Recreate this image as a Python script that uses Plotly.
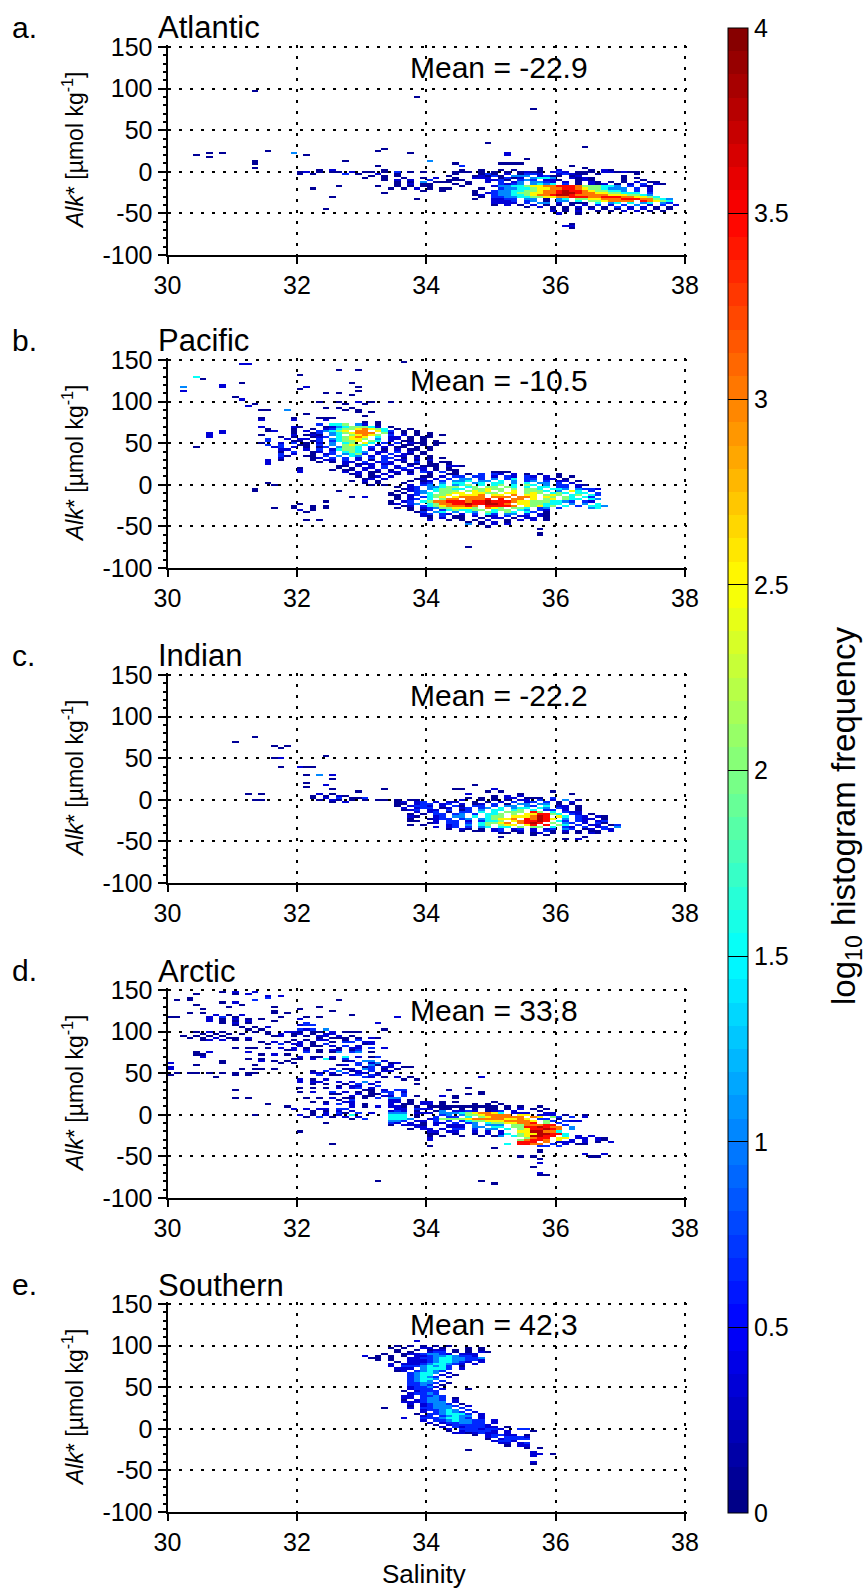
import numpy as np
import plotly.graph_objects as go

# Each row: Alk* value, salinity of first cell, one character per 0.1 salinity cell (space = empty).
level_values = {"1": 0.1, "2": 0.35, "3": 0.65, "4": 1.05, "5": 1.5, "6": 2.0, "7": 2.5, "8": 3.0, "9": 3.45, "a": 3.8}

atlantic_rows = [
    (97.5, 31.3, "1"), (90, 33.8, "1"), (75, 35.6, "1"), (35, 34.9, "1"), (30, 36.4, "1"),
    (27.5, 33.3, "1"), (25, 31.5, "1"), (25, 33.2, "1"), (22.5, 30.6, "1 1"), (22.5, 31.9, "4"), (22.5, 33.7, "1"),
    (22.5, 35.2, "2"), (20, 30.4, "1"), (20, 32.1, "1"), (20, 35.2, "2"), (17.5, 30.6, "1"), (15, 35.5, "1"),
    (12.5, 31.3, "1"), (12.5, 32.7, "1"), (12.5, 34.0, "4"), (10, 31.3, "1"), (10, 34.4, "1"), (7.5, 33.2, "1"),
    (10, 35.1, "1111"), (7.5, 34.5, "3"), (7.5, 36.2, "1"), (5, 31.3, "1"), (5, 35.7, "1"), (5, 36.4, "1"),
    (2.5, 32.3, "1 2"), (2.5, 33.3, "1"),
    (0, 32.0, "12 1 11 2 11 1 3 1 1"), (-2.5, 32.0, "1 1    3 1  2  1"), (-5, 33.1, "1 1 1"),
    (-7.5, 33.0, "1  1  1  1 2"), (-10, 33.3, "1 2 2  3"), (-12.5, 33.5, "1 1 4 1 1"),
    (-15, 33.5, "1 2 11"), (-17.5, 32.6, "1"), (-17.5, 33.2, "1  1 1 1"), (-20, 32.2, "1"), (-20, 33.4, "1 1 2 1 11"),
    (-22.5, 33.9, "1  1"), (-25, 33.3, "1"), (-30, 32.5, "1"), (-32.5, 33.8, "1"), (-45, 32.4, "1"),
    (2.5, 34.0, "     1  1  1 1   1  2    1 21"),
    (0, 34.0, "    111 1 1 1 1211 232 111 221211"),
    (-2.5, 34.0, "    1   131 2 1332  23211 1     1"),
    (-5, 34.0, "   1   12131 444 2311 12      1"),
    (-7.5, 34.0, "    1  222 1312 4554  2121    1 1"),
    (-10, 34.0, "   111   2231 343 221  121    1  1"),
    (-12.5, 34.0, "  11  1  2 3 24 4432 2 1 21 1 1 2 11"),
    (-15, 34.0, "1   1 1    3234 4545 3 1 212 1 2 3 21"),
    (-17.5, 34.0, "1    1    24455677889998666554 3 21"),
    (-20, 34.0, "        1  34455677889987665444 3 2"),
    (-22.5, 34.0, "       1  34455667889a998766554 3 2"),
    (-25, 34.0, "       1 234456677889aa9887766555 3"),
    (-27.5, 34.0, "       12 3445567889aa9888887776654"),
    (-30, 34.0, "        1 33445566778899988999887765"),
    (-32.5, 34.0, "       1  2233 44 1 45 667788899988654"),
    (-35, 34.0, "          2223 34 1 44 5 6678888 98765"),
    (-37.5, 34.0, "          2222 3 44 2 111 5 45 5 45 43"),
    (-40, 34.0, "          1 2 1 2 1 1 1 2 3 2 3 4 2 3 2"),
    (-42.5, 34.0, "               1 2 1 1 2 1 1 3 2 2 1 1"),
    (-45, 34.0, "                   1 1 1 2 1 1 2 2 1 1"),
    (-47.5, 34.0, "                   2 1 2  1 1 2 2 1 1"),
    (-50, 34.0, "                    2  1"),
    (-65, 36.1, "22"), (-67.5, 36.2, "1"), (-62.5, 36.2, "1"),
]

pacific_rows = [
    (146, 31.1, "22"), (147.5, 33.6, "1"), (137.5, 32.6, "1  1"), (132.5, 32.0, "1"), (130, 30.4, "5"), (127.5, 30.5, "1"),
    (122.5, 31.1, "1"), (122.5, 32.8, "1"), (120, 30.8, "2"), (117.5, 30.2, "4"), (117.5, 30.8, "2"), (117.5, 32.1, "2"), (117.5, 32.9, "1"),
    (115, 32.0, "1"), (112.5, 30.2, "2"), (112.5, 32.9, "1"), (110, 32.4, "1 1"), (107.5, 32.8, "1"), (105, 31.0, "1"),
    (102.5, 31.1, "2"), (100, 32.3, "1  1  2 1  1"), (97.5, 31.3, "1"), (97.5, 32.7, "1  1"),
    (95, 31.2, "2"), (92.5, 32.4, "1 1 1"), (90, 31.4, "11"), (90, 31.8, "4"), (90, 32.7, "1 1"), (87.5, 32.9, "1 1"), (85, 32.1, "1"),
    (82.5, 33.0, "1"), (80, 31.4, "1"), (80, 31.9, "1"), (80, 32.3, "111"), (77.5, 31.4, "2"), (77.5, 31.9, "2"), (77.5, 32.4, "2"), (75, 33.0, "1 1"),
    (70, 31.4, "2"), (67.5, 31.5, "1"), (65, 31.5, "1"), (65, 30.8, "2"), (62.5, 30.6, "2"), (62.5, 30.8, "2"), (60, 30.6, "2"),
    (60, 31.4, "1"), (57.5, 30.6, "2"), (55, 31.5, "3"), (52.5, 31.5, "3"), (50, 31.4, "1"),
    (47.5, 31.5, "3"), (45, 30.4, "1"), (45, 31.6, "2"), (42.5, 31.7, "1"), (35, 31.8, "1"),
    (30, 31.5, "2"), (27.5, 31.5, "2"), (25, 31.5, "2"),
    (72.5, 31.4, "         3 556 42 1"),
    (70, 31.4, "     21   124566652 1"),
    (67.5, 31.4, "     1  1 2356678765 1 1"),
    (65, 31.4, "  2  1 2 34567 88 753 1 1"),
    (62.5, 31.4, "     1  13 4567888 62 1 1 1"),
    (60, 31.4, "     2 121 45 67876 3 2 1 1 1"),
    (57.5, 31.4, "   1 1  123 56787 5 22 1 11"),
    (55, 31.4, "    2 22 3 456776 4 22 1 1"),
    (52.5, 31.4, "     11 13 35667 65 2 11 1 1"),
    (50, 31.4, "   2 3 1 2 4 56 75 3 3 211 11"),
    (47.5, 31.4, "   3  11 3 4 6765 2 2 11 1 1"),
    (45, 31.4, "   3 2 1 13 4665 3 2 11 1 1"),
    (42.5, 31.4, "   22  2 3 25665 2 1 2 11 1"),
    (40, 31.4, "   1 3  12 3 5654 22 3 2 1"),
    (37.5, 31.4, "   3 2  1 23 4563 2 3 21 1"),
    (35, 31.4, "   31  11 3 4 54 2 3 22 1 1"),
    (32.5, 31.4, "   2    12 3 3 2 3 33 1 2 1 1"),
    (30, 31.4, "   1    1 22 3 2 1 3 22 1 2"),
    (27.5, 32.3, "1 1 22 3 232 1 3 1 11"),
    (25, 32.7, "2 122 22  11 11 1"),
    (22.5, 32.6, "11 2 2 3 2 2 111 221"),
    (20, 32.0, "1"), (20, 32.6, "1 1 22 3 23 22 1 1"),
    (17.5, 32.0, "2"), (17.5, 32.5, "1 11 2 2 1 22 2 1 11"),
    (15, 32.0, "2"), (15, 32.7, "2 2 11 22 1 32 3 1"), (15, 35.0, "111"),
    (12.5, 32.8, "12 1 2 1 2"), (10, 32.9, "1 12 2"), (7.5, 33.0, "12 2"), (5, 32.8, "1 2 1"), (2.5, 33.0, "1 1"), (2.5, 31.5, "1"),
    (0, 33.1, "1 1"), (0, 31.6, "1"), (-5, 31.3, "1"), (-7.5, 31.3, "1"), (-7.5, 32.6, "1"),
    (12.5, 33.4, "      1  11 1 3 32 2 1 1  1"),
    (10, 33.4, "     11 2 33 33 2 32 32 2 1 1"),
    (7.5, 33.4, "    12 2 3 44 3 4 35 33 22 1"),
    (5, 33.4, "   1 12 3 445 44 5 4 34 3 22 1"),
    (2.5, 33.4, "  1  23 4 55 45 55 4 5 44 3 2"),
    (0, 33.4, "   2 34 5 456 5 56 5 65 4 33 21"),
    (-2.5, 33.4, " 1 23 44566 56 66 65 5 55 33 2"),
    (-5, 33.4, "  123 456655 66766 6 665 554 4332"),
    (-7.5, 33.4, " 1 234 5666 6767 6 7 6665 4 75 3"),
    (-10, 33.4, "1 1 345 6677 7766 77 676 565 55 3"),
    (-12.5, 33.4, "11 23 5667 7778 77 8 77 676 56 53"),
    (-15, 33.4, " 1 2 3567 78888 888 887 76 65 53"),
    (-17.5, 33.4, " 1 23 5 688 8889 9 88 7 67 655 54"),
    (-20, 33.4, "1 23 5688999899a9998776665543 32"),
    (-22.5, 33.4, "12 34 568899a99aa98 7766555 4 4 5"),
    (-25, 33.4, "  12 356788898 99998 76756 5 3 554"),
    (-27.5, 33.4, " 1 1 234667776 876 665 34 3    45"),
    (-30, 33.4, "   1 13 3565566 566 54 32"),
    (-32.5, 33.4, "    13 45 4 54 65 65 53 1"),
    (-35, 33.4, "     23 32 2 3 53 44 3 21"),
    (-37.5, 33.4, "     21 3 11 2 12 3 22 21"),
    (-40, 33.4, "      1 2 11  1 22 1 22 1"),
    (-42.5, 34.0, "2  1 1 1 2  1 2 2 1"), (-45, 34.6, "1 1 2 1"), (-47.5, 34.6, "4 1 2 2"), (-50, 34.9, "1"),
    (-52.5, 35.7, "1"), (-57.5, 35.7, "1"), (-60, 35.7, "1"), (-75, 34.6, "1"),
    (-15, 32.8, "1 2"), (-20, 32.4, "1"), (-22.5, 32.0, "1"), (-25, 31.9, "1  1 1"), (-27.5, 31.6, "1  1  1 1"), (-30, 32.0, "2 1"), (-32.5, 32.1, "1"), (-42.5, 32.1, "1 1"),
]

indian_rows = [
    (75, 31.3, "1"), (70, 31.0, "1"), (65, 31.6, "1 1"), (62.5, 31.7, "1"), (52.5, 32.4, "1"), (50, 31.6, "12"), (40, 31.7, "1"), (40, 32.0, "211"),
    (30, 32.1, "1 4 2"), (25, 32.5, "1"), (20, 32.1, "1"), (17.5, 32.4, "2"), (15, 32.1, "1"), (12.5, 32.5, "1"), (7.5, 31.2, "1 1"), (10, 32.9, "1"),
    (12.5, 33.3, "1"), (7.5, 32.3, "2 1"), (5, 32.2, "1 1 21"), (2.5, 32.2, "1 2 3 11"), (0, 31.3, "11"), (0, 32.3, "1 21 1"), (2.5, 33.0, "3"),
    (-2.5, 32.5, "1 2"), (0, 33.0, "1"), (17.5, 34.7, "1"), (12.5, 34.4, "11"), (12.5, 35.0, "2"), (10, 34.9, "1 1"), (10, 35.9, "1"),
    (7.5, 34.6, "2"), (7.5, 35.4, "1"), (7.5, 36.2, "1"), (5, 35.0, "1 2 2"),
    (2.5, 33.0, "                1 1 1 22 111 3"),
    (0, 33.0, "  11 1 11      2  1 1 1 22 3 2 4 1"),
    (-2.5, 33.0, "     12 23 2 22  1 1 2 3 23 3 1 2"),
    (-5, 33.0, "     11 233 23 2 12 3 1 44 44 1 1"),
    (-7.5, 33.0, "     1 2332 2 31 33 3 44 43 5 22 1"),
    (-10, 33.0, "      2 233 12 23 34 5 455 54 32 1"),
    (-12.5, 33.0, "      123 22 3 13 4 55 56 5 33 2 1"),
    (-15, 33.0, "        2 23 1 33 5 5 666 96 5 322"),
    (-17.5, 33.0, "       1 1 33 34 3 556 6 779965 32 1"),
    (-20, 33.0, "       21  23 44 5 566 7778a9 75 32 21"),
    (-22.5, 33.0, "       1  1233 34 456778 98a97 4 322 1"),
    (-25, 33.0, "       11  2 33 2 3556 7899a9 53 32 23"),
    (-27.5, 33.0, "          12 33 3 56678 89a9 6 43 2 31"),
    (-30, 33.0, "       1 1   23 4 56 677 79 9 65 3 22 13"),
    (-32.5, 33.0, "           2 23 3 45 55 6 66 5 32 3 23 4"),
    (-35, 33.0, "             1 21 1 23 23 2 23 43 12 32"),
    (-37.5, 33.0, "               1 11 23 12 2 31 2 1 11 2"),
    (-40, 33.0, "                     11 1 12 1 1 1 21"), (-42.5, 35.6, "1 1"), (-45, 35.1, "1"), (-47.5, 36.1, "1 2"), (-45, 36.4, "1"),
]

arctic_rows = [
    (147.5, 31.3, "2"), (147.5, 30.8, "1 2"), (145, 30.4, "1"), (145, 31.0, "1 2"), (142.5, 31.5, "2 2"),
    (140, 30.3, "1"), (140, 31.5, "3"), (137.5, 30.1, "1 1"), (137.5, 31.3, "3"), (137.5, 32.6, "1"), (135, 30.8, "1 2"),
    (132.5, 30.4, "1"), (132.5, 31.1, "1"), (130, 30.9, "1"), (130, 31.6, "1"), (130, 32.3, "1"),
    (127.5, 30.5, "1"), (127.5, 32.0, "1"), (125, 31.6, "1"), (125, 32.5, "1"), (122.5, 30.3, "1 1"), (122.5, 31.6, "1 1"),
    (120, 30.7, "2 1 2"), (120, 32.8, "1"), (117.5, 30.0, "11"), (117.5, 30.6, "2 3 1"), (117.5, 31.7, "1"), (117.5, 32.1, "1 1"), (117.5, 33.5, "2"),
    (115, 30.6, "2 1 2 1 1"), (115, 32.0, "2"), (112.5, 30.6, "2 1 1 2"), (112.5, 31.6, "1"), (110, 32.1, "3"), (110, 30.8, "1 2 1"),
    (110, 33.2, "2"), (107.5, 31.0, "1"), (107.5, 32.0, "233"), (105, 31.1, "1 1 2"), (102.5, 31.2, "1 1"), (102.5, 32.0, "323 4"), (102.5, 33.3, "1"),
    (100, 30.4, "1 2 1"), (100, 31.3, "1 1  221 11 2 111"), (97.5, 30.5, "1 1 1 1"), (97.5, 31.5, "1 2 12 1 22"),
    (95, 30.2, "1 1 1 1"), (95, 31.6, "12 1 1 22 2 1"), (92.5, 30.3, "1 1 2 11 2"), (92.5, 32.3, "1 111 1 21"),
    (90, 30.5, "12 2 1 1"), (90, 31.9, "1 1 22  1 3"), (87.5, 31.4, "1 2 1 2 1"), (87.5, 32.5, "1 33 22"),
    (85, 31.5, "1 3 22 1 3"), (85, 33.0, "12"), (82.5, 32.0, "2 11 2 3 2"), (80, 31.0, "1 11 1 2 2 1"), (80, 32.6, "1 22 3 2"),
    (77.5, 31.8, "12 2 1 22 13"), (75, 30.4, "1 2"), (75, 31.2, "2"), (75, 32.1, "3 1 14 34 1"), (72.5, 30.4, "11"), (72.5, 31.4, "1 2 1"),
    (70, 32.0, "2 11 2 5 2 13"), (70, 30.5, "2"), (67.5, 31.2, "1 1"), (67.5, 31.9, "11 2 51 3"), (65, 30.8, "1"), (65, 31.4, "2 1 1"),
    (65, 32.7, "12 44 2"), (62.5, 30.0, "2"), (62.5, 30.8, "1"), (62.5, 31.7, "1 1"), (62.5, 32.9, "3 24 12"), (60, 30.4, "1"), (60, 31.3, "1"),
    (60, 32.6, "12 3 41 2"), (57.5, 30.0, "2"), (57.5, 33.0, "13 22 11"), (55, 30.0, "2"), (55, 31.1, "1 11 1"), (55, 32.5, "2 12 43 1 1"),
    (52.5, 32.2, "1 3 4 12 3 22"), (50, 30.1, "1 11 1 1 1 11"), (50, 32.2, "22 2 3 22 1"),
    (47.5, 30.0, "1"), (47.5, 31.0, "1 1"), (47.5, 32.3, "3 11 23 32"), (45, 30.7, "1"), (45, 33.0, "32 1 2 1"), (45, 34.8, "2"), (42.5, 32.0, "2"),
    (42.5, 32.2, "1 2"), (42.5, 33.6, "1 1"), (40, 32.0, "2 22  2 2 4 2"), (37.5, 32.2, "1 1  1 3 2"), (37.5, 33.8, "1"), (35, 32.6, "1 22  3"),
    (32.5, 32.0, "1 1 1 2 23 2"), (32.5, 34.6, "1"), (30, 33.0, "11 2 33"), (30, 31.0, "1"), (30, 34.3, "1"), (27.5, 32.0, "1 2  3 2 1 1 33 2"),
    (27.5, 34.8, "1"), (25, 32.5, "11  2 11 3 3"), (25, 34.6, "1 1"), (22.5, 32.8, "2 11 22 3 1"), (22.5, 34.2, "2 1"),
    (20, 32.1, "1 1 2 11 1 3 44"), (20, 31.0, "1 1"), (20, 34.4, "1"), (17.5, 32.6, "1 3"), (17.5, 33.4, "22 1"), (15, 32.2, "1 1  22"), (15, 33.4, "22 1 22 1 1     1"),
    (12.5, 31.5, "1"), (12.5, 32.4, "2 3 2 1"), (12.5, 33.4, "2 11 22 1    1 1 1"), (10, 31.8, "1"), (10, 32.8, "2 1 2"), (10, 33.4, "221 1 11111111111 1 1  1"),
    (7.5, 31.9, "2 2 22 33"), (7.5, 33.4, " 22 322 11 1 1 11 1 2 1 1"), (5, 32.2, "1 1 2 2"), (5, 33.4, "232 1  14 2232 123 2   1"),
    (2.5, 32.2, "1 2 31 3 2"), (2.5, 33.4, "444 222 4445678875 222  22"), (0, 31.3, "1"), (0, 32.0, "2 1 2 2 5"), (0, 33.4, "555 1   34 46678888 77 222 1  1"),
    (-2.5, 32.1, "1 3 1 2 2"), (-2.5, 33.4, "555 1  3 33 5 6788888 87 63 3 2"), (-5, 32.8, "1 3"), (-5, 33.4, "5554  2366667888887787 33 1"),
    (-7.5, 33.4, "443 22 3 3 356677788887 63 322"), (-10, 32.4, "1"), (-10, 33.4, "32 2 1 22 3 34 56677889 6 3"),
    (-12.5, 33.4, "1 2221 2 222 4 444 6688899 3"), (-15, 33.3, "     22   222 44 55 6699a988 4"),
    (-17.5, 33.3, "    1 22 2 33 3 44 5 6799a98 4"), (-20, 32.0, "1"), (-20, 33.3, "       22 22  2 2 2  77aa885"),
    (-22.5, 33.3, "       11  1  1 2 25 677aa995"), (-25, 33.3, "       1 1  1  1 14 567aa99 5 2 2"),
    (-27.5, 33.3, "       2              6899 77 22 21"), (-30, 33.3, "       2             68998 7 2 2 21"),
    (-32.5, 33.3, "                     999 8 222 2 1 2"), (-35, 32.5, "1"), (-35, 33.3, "                   5 9988 3 2 11"),
    (-37.5, 33.3, "       1                33 3"), (-40, 35.0, "1"), (-42.5, 35.7, "1"), (-45, 35.7, "1"), (-47.5, 36.4, "2  2"),
    (-50, 35.4, "1 1"), (-50, 36.5, "11"), (-52.5, 35.7, "1"), (-57.5, 35.7, "2"), (-62.5, 35.6, "1"), (-70, 35.7, "2"), (-72.5, 35.7, "11"),
    (-80, 33.2, "1"), (-80, 34.8, "1"), (-82.5, 35.0, "1"),
]

southern_rows = [
    (105, 33.8, "2"), (100, 33.5, "1 1 1 1 1"), (97.5, 33.4, "1 1  22 1   1"), (97.5, 34.8, "1"),
    (95, 33.0, "     1  1 122 1 1 1"), (92.5, 33.0, "     1 1  233 1 1 21"), (90, 33.0, "   1  12234432 222"),
    (87.5, 33.0, "2 1 1 1 2234454332"), (85, 33.0, " 11 1  223345544334"), (82.5, 33.0, "  1 1  222345544332"),
    (80, 33.0, "     1 2223455432 2"), (77.5, 33.0, "    2 2223455432 2"), (75, 33.0, "    2 33345453 1"), (72.5, 33.0, "     222 45553 2"),
    (70, 33.5, "12 34543"), (67.5, 33.7, "34554 2"), (65, 33.7, "3455 2 1"), (62.5, 33.7, "34543 2"), (60, 33.7, "34554"),
    (57.5, 33.7, "3454 3"), (55, 33.7, "33443 1"), (52.5, 33.7, "3343 1"), (50, 33.7, "23342"), (47.5, 33.7, "2333 2"), (47.5, 34.6, "1"),
    (45, 33.6, "1 2333"), (42.5, 33.7, "23343"), (40, 33.6, "22 3343"), (37.5, 33.6, "22 3443 1"), (35, 33.6, "1 23443 2"),
    (32.5, 33.6, "2223444 2"), (30, 33.7, "2 23443 1"), (27.5, 33.7, "1 234443 2"), (25, 33.3, "1"), (25, 33.7, "2 33444 3"),
    (22.5, 33.9, "233454 3"), (20, 33.9, "2 34543 2"), (17.5, 33.8, "1 3345553 2"), (15, 33.9, "23 34544 2"),
    (12.5, 33.6, "2  33345543 2"), (10, 33.9, "2 33454433 2"), (7.5, 34.0, "2 2334433 2"), (5, 34.1, "1 2333332"),
    (2.5, 34.2, "2 3233322 1"), (0, 34.3, "2 3332332"), (0, 35.4, "33"), (-2.5, 34.3, "1 233332 2"), (-2.5, 35.6, "1"),
    (-5, 34.4, "2212322 2"), (-7.5, 34.7, "1 23322 1"), (-10, 34.9, "23 3332"), (-12.5, 34.9, "1 23333"), (-15, 35.0, "2332"),
    (-17.5, 35.1, "22 23"), (-20, 35.2, "1 22"), (-22.5, 35.5, "1 1"), (-25, 34.6, "1"), (-27.5, 35.6, "2"), (-30, 35.6, "22 1"),
    (-32.5, 35.6, "2"), (-40, 35.6, "2"), (-42.5, 35.6, "1"),
]

panel_letters = ["a.", "b.", "c.", "d.", "e."]
panel_names = ["Atlantic", "Pacific", "Indian", "Arctic", "Southern"]
panel_means = ["Mean = -22.9", "Mean = -10.5", "Mean = -22.2", "Mean = 33.8", "Mean = 42.3"]
panel_rows = [atlantic_rows, pacific_rows, indian_rows, arctic_rows, southern_rows]

x_ticks = [30, 32, 34, 36, 38]
y_ticks = [-100, -50, 0, 50, 100, 150]
y_tick_labels = ["-100", "-50", "0", "50", "100", "150"]
bar_ticks = [0, 0.5, 1, 1.5, 2, 2.5, 3, 3.5, 4]
bar_tick_labels = ["0", "0.5", "1", "1.5", "2", "2.5", "3", "3.5", "4"]

W, H = 868, 1591
X0, X1 = 167.5, 685
tops = [47, 360, 675, 990, 1304]
PH = 208
EXTRA = 2  # px beyond the end ticks so the dotted end gridlines are kept
ALK = "<i>Alk</i>* [µmol kg<sup>-1</sup>]"


def jet_scale(n=64):
    out = []
    for i in range(n):
        t = (i + 0.5) / n
        r = np.clip(min(4 * t - 1.5, -4 * t + 4.5), 0, 1)
        g = np.clip(min(4 * t - 0.5, -4 * t + 3.5), 0, 1)
        b = np.clip(min(4 * t + 0.5, -4 * t + 2.5), 0, 1)
        c = f"rgb({int(r*255)},{int(g*255)},{int(b*255)})"
        out += [[i / n, c], [(i + 1) / n, c]]
    return out


def grid_from(rows):
    xs = np.round(np.arange(30.05, 38.0, 0.1), 2)
    ys = np.arange(-97.5, 150, 2.5)
    z = np.full((len(ys), len(xs)), np.nan)
    for alk, sal, cells in rows:
        j = int(np.clip(np.round((alk + 97.5) / 2.5), 0, len(ys) - 1))
        for k, ch in enumerate(cells):
            if ch == " ":
                continue
            i = int(np.floor((sal - 30) * 10 + 1e-6)) + k
            if 0 <= i < len(xs):
                z[j, i] = level_values[ch]
    return xs, ys, z


fig = go.Figure()
annos = []
for n, rows in enumerate(panel_rows):
    xs, ys, z = grid_from(rows)
    ax = "" if n == 0 else str(n + 1)
    fig.add_trace(go.Heatmap(x=xs, y=ys, z=z, coloraxis="coloraxis", xaxis=f"x{ax}", yaxis=f"y{ax}", hoverongaps=False))
    top = tops[n]
    dom = [1 - (top + PH) / H, 1 - (top - EXTRA) / H]
    common = dict(showline=True, linecolor="black", linewidth=2, ticks="outside", tickcolor="black", tickwidth=2,
                  showgrid=True, gridcolor="black", griddash="3px,8px", gridwidth=2, zeroline=False,
                  tickfont=dict(family="Liberation Sans", size=25, color="black"), layer="above traces")
    fig.update_layout({
        f"xaxis{ax}": dict(domain=[X0 / W, (X1 + EXTRA) / W], range=[30, 38 + 8 * EXTRA / (X1 - X0)], tickvals=x_ticks,
                           ticklen=7, anchor=f"y{ax}", **common),
        f"yaxis{ax}": dict(domain=dom, range=[-100, 150 + 250 * EXTRA / PH], tickvals=y_ticks, ticktext=y_tick_labels, ticklen=8, anchor=f"x{ax}",
                           minor=dict(dtick=10, ticks="outside", ticklen=3, tickcolor="black", tickwidth=1.5), **common),
    })
    annos.append(dict(text=panel_letters[n], x=10 / W, y=1 - (top - 20) / H, xanchor="left", yanchor="middle", font_size=30))
    annos.append(dict(text=panel_names[n], x=156 / W, y=1 - (top - 19) / H, xanchor="left", yanchor="middle", font_size=31))
    annos.append(dict(text=panel_means[n], x=408 / W, y=1 - (top + 20) / H, xanchor="left", yanchor="middle", font_size=30))
    annos.append(dict(text=ALK, x=73 / W, y=1 - (top + PH / 2) / H, xanchor="center", yanchor="middle", textangle=-90, font_size=23))
annos.append(dict(text="Salinity", x=424 / W, y=1 - 1574 / H, xanchor="center", yanchor="middle", font_size=26))
annos.append(dict(text="log<sub>10</sub> histogram frequency", x=846 / W, y=1 - 816 / H, xanchor="center", yanchor="middle",
                  textangle=-90, font_size=33))
for a in annos:
    a.update(xref="paper", yref="paper", showarrow=False)
    a["font"] = dict(family="Liberation Sans", color="black", size=a.pop("font_size"))

fig.update_layout(
    width=W, height=H, autosize=False, margin=dict(l=0, r=0, t=0, b=0, autoexpand=False),
    paper_bgcolor="white", plot_bgcolor="white", showlegend=False, annotations=annos,
    coloraxis=dict(
        cmin=0, cmax=4, colorscale=jet_scale(),
        colorbar=dict(
            x=728 / W, xanchor="left", xpad=0, y=1 - 1513 / H, yanchor="bottom", ypad=0,
            lenmode="pixels", len=1485, thicknessmode="pixels", thickness=20,
            tickvals=bar_ticks, ticktext=bar_tick_labels, ticks="inside", ticklen=20, tickcolor="black", tickwidth=1,
            outlinecolor="black", outlinewidth=1,
            tickfont=dict(family="Liberation Sans", size=25, color="black"),
        ),
    ),
)
fig.write_html("out.html", config={"displayModeBar": False},
               post_script="document.body.style.margin='0';document.documentElement.style.overflow='hidden';")
